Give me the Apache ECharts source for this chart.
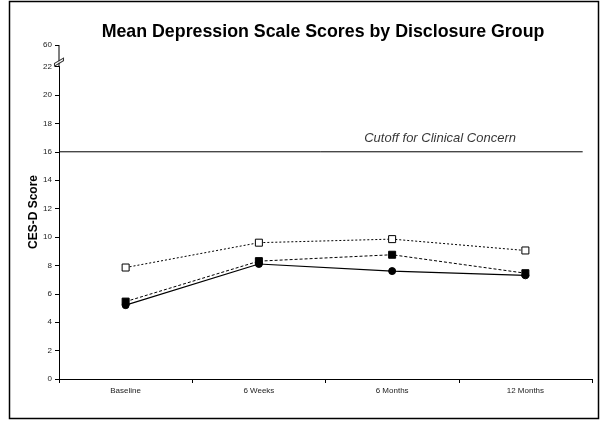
<!DOCTYPE html>
<html>
<head>
<meta charset="utf-8">
<script src="https://cdn.jsdelivr.net/npm/echarts@6/dist/echarts.min.js"></script>
<style>
  html, body { margin: 0; padding: 0; background: #fff; }
  #chart { width: 607px; height: 421px; }
</style>
</head>
<body>
<div id="chart"></div>
<script>
// Mean CES-D scores at each assessment point, per disclosure group
const categories = ['Baseline', '6 Weeks', '6 Months', '12 Months'];
const openSquareGroup = [7.85, 9.6, 9.85, 9.05];
const filledSquareGroup = [5.45, 8.3, 8.75, 7.45];
const circleGroup = [5.2, 8.1, 7.6, 7.3];
const cutoffScore = 16;
const yTickValues = [0, 2, 4, 6, 8, 10, 12, 14, 16, 18, 20, 22, 60];
// the value axis is cut between these two values
const breakStart = 22;
const breakEnd = 60;
const breakMarkValue = 30;

const font = 'Liberation Sans, Arial, sans-serif';
const chart = echarts.init(document.getElementById('chart'), null, { renderer: 'canvas' });

chart.setOption({
  animation: false,
  backgroundColor: '#fff',
  title: {
    text: 'Mean Depression Scale Scores by Disclosure Group',
    left: 318, top: 18, textAlign: 'center',
    textStyle: { fontFamily: font, fontSize: 17.8, fontWeight: 'bold', color: '#000' }
  },
  grid: { left: 59, right: 15, top: 45, bottom: 42 },
  xAxis: [{
    type: 'category',
    data: categories,
    boundaryGap: true,
    axisLine: { onZero: false, lineStyle: { color: '#000', width: 1 } },
    axisTick: { show: true, length: 4, lineStyle: { color: '#000' } },
    axisLabel: { fontFamily: font, fontSize: 8, color: '#222', margin: 8 },
    splitLine: { show: false }
  }, {
    type: 'value', min: -0.5, max: 3.5, show: false
  }],
  yAxis: {
    type: 'value',
    min: 0, max: breakEnd, interval: 2,
    breaks: [{ start: breakStart, end: breakEnd, gap: 1.52 }],
    breakArea: {
      show: true,
      itemStyle: { color: 'rgba(255,255,255,0)', borderColor: 'rgba(255,255,255,0)', borderWidth: 0, opacity: 0 },
      zigzagAmplitude: 0
    },
    name: 'CES-D Score',
    nameLocation: 'middle',
    nameGap: 19,
    nameMoveOverlap: false,
    nameTextStyle: { fontFamily: font, fontSize: 12, fontWeight: 'bold', color: '#000' },
    axisLine: { show: true, onZero: false, lineStyle: { color: '#000', width: 1 } },
    axisTick: { show: true, length: 4, lineStyle: { color: '#000' } },
    axisLabel: {
      fontFamily: font, fontSize: 8, color: '#222', margin: 7,
      customValues: yTickValues
    },
    splitLine: { show: false }
  },
  series: [{
    name: 'Open squares',
    type: 'line',
    data: openSquareGroup,
    symbol: 'rect', symbolSize: 7,
    itemStyle: { color: '#fff', borderColor: '#000', borderWidth: 1 },
    lineStyle: { color: '#000', width: 1, type: [2, 2] },
    z: 3
  }, {
    name: 'Filled squares',
    type: 'line',
    data: filledSquareGroup,
    symbol: 'rect', symbolSize: 7,
    itemStyle: { color: '#000', borderColor: '#000' },
    lineStyle: { color: '#000', width: 1, type: [3, 2] },
    z: 4
  }, {
    name: 'Circles',
    type: 'line',
    data: circleGroup,
    symbol: 'circle', symbolSize: 7,
    itemStyle: { color: '#000', borderColor: '#000' },
    lineStyle: { color: '#000', width: 1.2 },
    z: 5
  }, {
    name: 'Cutoff',
    type: 'line',
    xAxisIndex: 1,
    data: [[-0.5, cutoffScore], [3.43, cutoffScore]],
    symbol: 'none',
    lineStyle: { color: '#000', width: 1 },
    silent: true,
    z: 2
  }, {
    name: 'Cutoff label',
    type: 'scatter',
    xAxisIndex: 1,
    data: [[2.36, cutoffScore]],
    symbolSize: 0,
    label: {
      show: true, position: 'top', distance: 7,
      formatter: 'Cutoff for Clinical Concern',
      fontFamily: font, fontSize: 13, fontStyle: 'italic', color: '#000'
    },
    silent: true
  }, {
    // axis line through the cut-out section, with the break mark on it
    name: 'Axis break',
    type: 'line',
    xAxisIndex: 1,
    data: [[-0.5, breakStart], [-0.5, breakEnd]],
    symbol: 'none',
    clip: false,
    lineStyle: { color: '#000', width: 1 },
    silent: true,
    z: 6
  }, {
    name: 'Axis break mark',
    type: 'scatter',
    xAxisIndex: 1,
    data: [[-0.5, breakMarkValue]],
    symbol: 'path://M0,6 L10,0 L10,3 L0,9 Z',
    symbolSize: [9, 8],
    clip: false,
    itemStyle: { color: '#fff', borderColor: '#000', borderWidth: 1 },
    silent: true,
    z: 7
  }],
  graphic: [{
    type: 'rect',
    shape: { x: 9.5, y: 1.5, width: 589, height: 417 },
    style: { fill: 'none', stroke: '#000', lineWidth: 1.5 },
    silent: true
  }]
});
</script>
</body>
</html>
